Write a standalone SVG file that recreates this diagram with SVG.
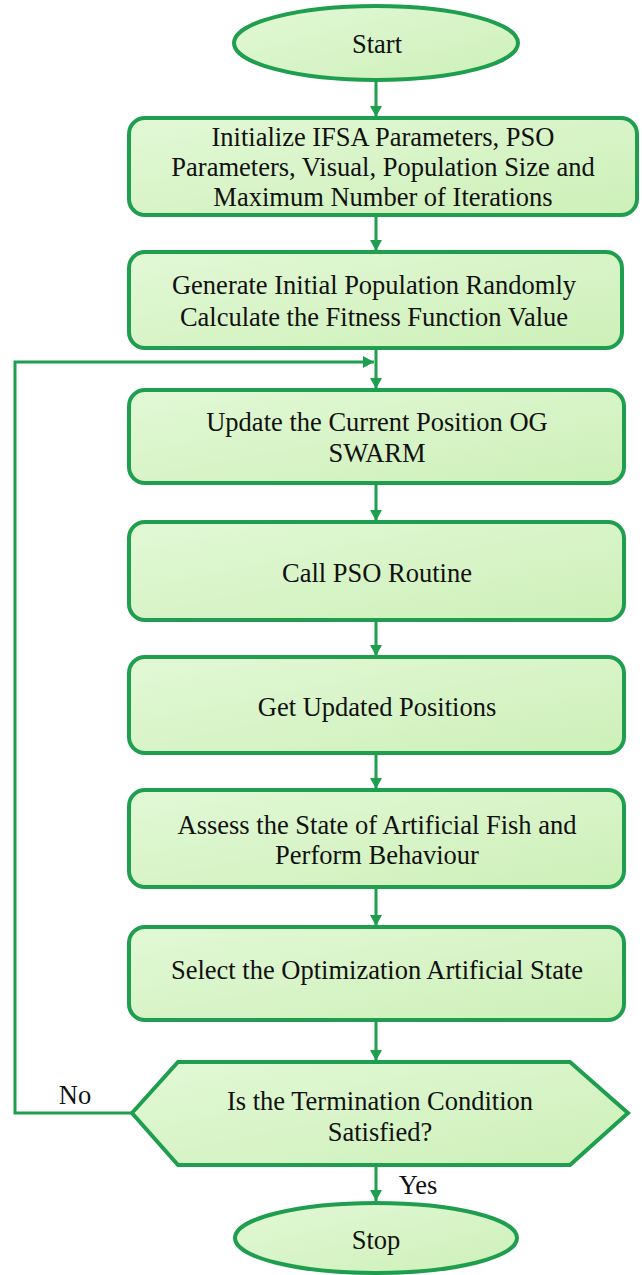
<svg xmlns="http://www.w3.org/2000/svg" width="642" height="1275" viewBox="0 0 642 1275">
<style>
.shape{fill:url(#g);stroke:#1f9e50;stroke-width:4}
.conn{fill:none;stroke:#1f9e50;stroke-width:3}
.t{font-family:'Liberation Serif','Times New Roman',Times,serif;font-size:26.5px;fill:#111;text-anchor:middle;dominant-baseline:central}
</style>
<defs>
<linearGradient id="g" x1="0" y1="0" x2="1" y2="1">
<stop offset="0" stop-color="#e2f8d6"/>
<stop offset="1" stop-color="#cdf0b8"/>
</linearGradient>
<marker id="ah" markerUnits="userSpaceOnUse" markerWidth="12" markerHeight="12" refX="11" refY="6" orient="auto">
<path d="M0,0 L11,6 L0,12 z" fill="#1f9e50"/>
</marker>
</defs>
<rect width="642" height="1275" fill="#ffffff"/>
<g id="connectors">
<line class="conn" x1="376" y1="80" x2="376" y2="117" marker-end="url(#ah)"/>
<line class="conn" x1="376" y1="215" x2="376" y2="251" marker-end="url(#ah)"/>
<line class="conn" x1="376" y1="348" x2="376" y2="389" marker-end="url(#ah)"/>
<line class="conn" x1="376" y1="483" x2="376" y2="521" marker-end="url(#ah)"/>
<line class="conn" x1="376" y1="620" x2="376" y2="656" marker-end="url(#ah)"/>
<line class="conn" x1="376" y1="753" x2="376" y2="789" marker-end="url(#ah)"/>
<line class="conn" x1="376" y1="887" x2="376" y2="926" marker-end="url(#ah)"/>
<line class="conn" x1="376" y1="1020" x2="376" y2="1061" marker-end="url(#ah)"/>
<line class="conn" x1="376" y1="1165" x2="376" y2="1201" marker-end="url(#ah)"/>
<polyline class="conn" points="132,1113 15,1113 15,362 374,362" marker-end="url(#ah)"/>
<text class="t" x="75" y="1095">No</text>
<text class="t" x="418" y="1185">Yes</text>
</g>
<g id="start">
<ellipse class="shape" cx="376" cy="43" rx="142" ry="37"/>
<text class="t" x="377" y="44">Start</text>
</g>
<g id="init">
<rect class="shape" x="129" y="118" width="508" height="97" rx="16"/>
<text class="t" x="383" y="137">Initialize IFSA Parameters, PSO</text>
<text class="t" x="383" y="167">Parameters, Visual, Population Size and</text>
<text class="t" x="383" y="197">Maximum Number of Iterations</text>
</g>
<g id="generate">
<rect class="shape" x="129" y="252" width="493" height="96" rx="16"/>
<text class="t" x="374" y="285">Generate Initial Population Randomly</text>
<text class="t" x="374" y="317">Calculate the Fitness Function Value</text>
</g>
<g id="update">
<rect class="shape" x="129" y="390" width="495" height="93" rx="16"/>
<text class="t" x="377" y="422">Update the Current Position OG</text>
<text class="t" x="377" y="453">SWARM</text>
</g>
<g id="pso">
<rect class="shape" x="129" y="522" width="495" height="98" rx="16"/>
<text class="t" x="377" y="573">Call PSO Routine</text>
</g>
<g id="getpos">
<rect class="shape" x="129" y="657" width="495" height="96" rx="16"/>
<text class="t" x="377" y="707">Get Updated Positions</text>
</g>
<g id="assess">
<rect class="shape" x="129" y="790" width="495" height="97" rx="16"/>
<text class="t" x="377" y="825">Assess the State of Artificial Fish and</text>
<text class="t" x="377" y="855">Perform Behaviour</text>
</g>
<g id="select">
<rect class="shape" x="129" y="927" width="495" height="93" rx="16"/>
<text class="t" x="377" y="970">Select the Optimization Artificial State</text>
</g>
<g id="decision">
<polygon class="shape" points="132,1113 178,1062 570,1062 628,1113 570,1165 178,1165"/>
<text class="t" x="380" y="1101">Is the Termination Condition</text>
<text class="t" x="380" y="1132">Satisfied?</text>
</g>
<g id="stop">
<ellipse class="shape" cx="376" cy="1238" rx="141" ry="35"/>
<text class="t" x="376" y="1240">Stop</text>
</g>
</svg>
